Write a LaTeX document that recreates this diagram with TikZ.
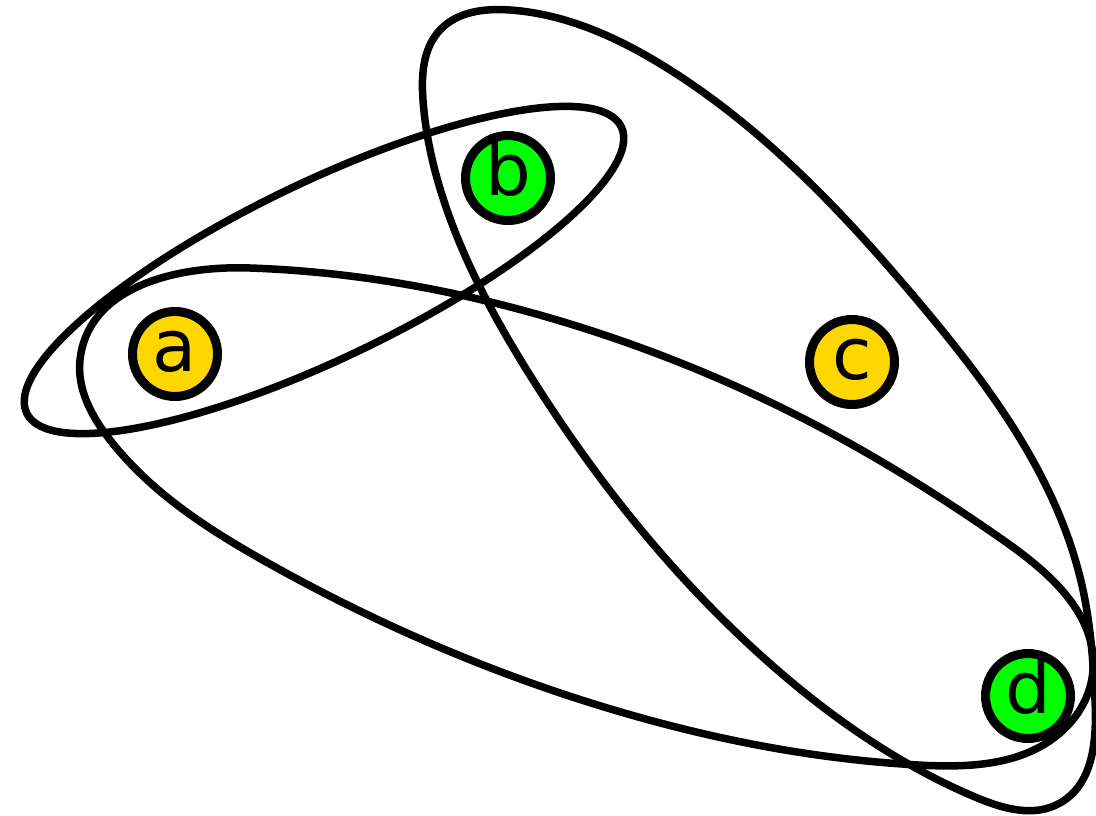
\documentclass[tikz,border=0pt]{standalone}
\usepackage{fontspec}
\setmainfont{DejaVu Sans}
\usetikzlibrary{hobby}
\definecolor{vgold}{RGB}{255,215,0}
\definecolor{vgreen}{RGB}{0,255,0}
\tikzset{
  hedge/.style={draw=black, line width=7.5pt, line join=round},
  vert/.style={circle, draw=black, line width=9pt, minimum size=85pt, inner sep=0pt,
    text height=52pt, text depth=18pt, font=\fontsize{72}{80}\selectfont},
}
\begin{document}
\begin{tikzpicture}[x=1pt,y=-1pt]
\useasboundingbox (0,0) rectangle (1096,816);
% hyperedge {a,b}
\draw[hedge, rotate around={25.7:(324,270)}] (324,270) ellipse [x radius=330pt, y radius=88pt];
% hyperedge {a,d}
\draw[hedge] plot[closed hobby] coordinates {
(80,360) (250,268) (567,323) (829,432) (1003,540) (1093,670) (1060,733) (918,765)
(614,710) (268,563) (110,440)};
% hyperedge {b,c,d}
\draw[hedge] plot[closed hobby] coordinates {
(440,30) (510,10) (667,68) (917,300) (1083,590) (1095,700) (1060,803) (975,797)
(766,660) (533,380) (447,210) (423,100)};
% vertices
\node[vert, fill=vgold]  (a) at (175,354) {a};
\node[vert, fill=vgreen] (b) at (508,178) {b};
\node[vert, fill=vgold]  (c) at (852,362) {c};
\node[vert, fill=vgreen] (d) at (1028,696) {d};
\end{tikzpicture}
\end{document}
